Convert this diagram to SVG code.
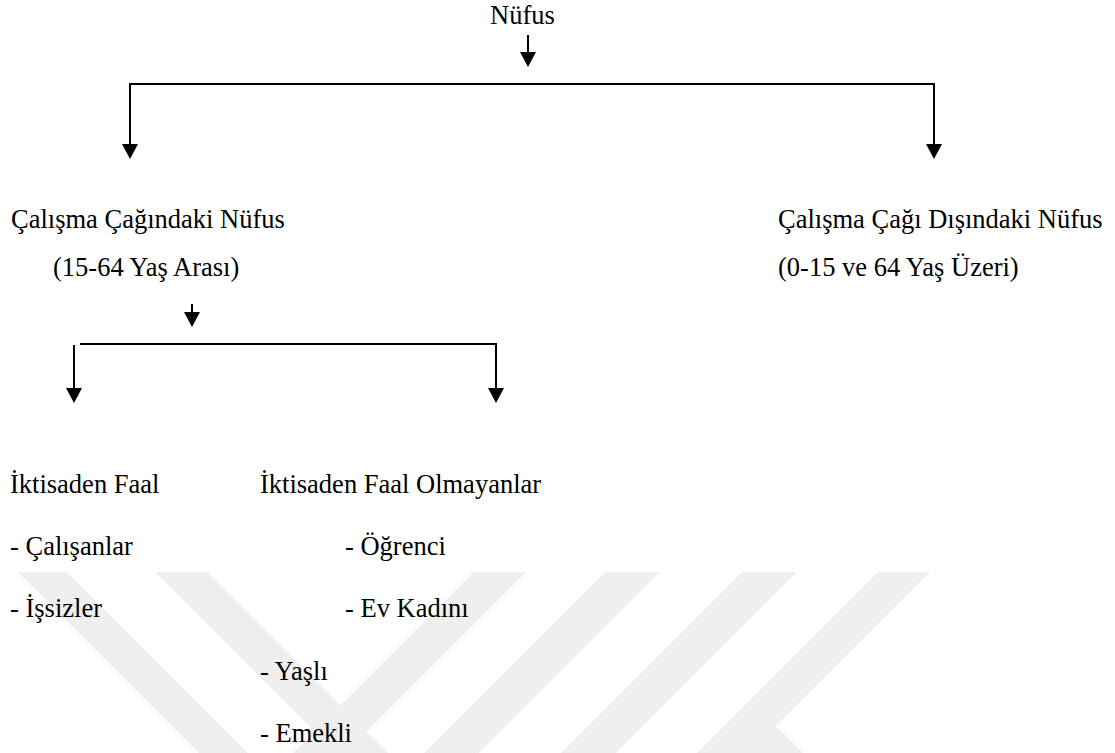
<svg xmlns="http://www.w3.org/2000/svg" width="1115" height="753" viewBox="0 0 1115 753">
  <style>
    .t { font-family: 'Liberation Serif', 'Times New Roman', serif; font-size: 26.5px; fill: #000; }
    .c { stroke: #000; stroke-width: 2; fill: none; }
    .wm { fill: #efefef; stroke: none; }
  </style>
  <defs>
    <marker id="ah" viewBox="0 0 15 16" refX="0" refY="8" markerWidth="15" markerHeight="16" markerUnits="userSpaceOnUse" orient="auto">
      <path d="M0,0 L15,8 L0,16 z" fill="#000"/>
    </marker>
  </defs>
  <rect width="1115" height="753" fill="#fff"/>
  <g id="watermark">
    <polygon class="wm" points="18,572 67,572 248,753 199,753"/>
    <polygon class="wm" points="155,572 207,572 388,753 336,753"/>
    <polygon class="wm" points="474,572 526,572 345,753 293,753"/>
    <polygon class="wm" points="605,572 660,572 479,753 424,753"/>
    <polygon class="wm" points="742,572 797,572 616,753 561,753"/>
    <polygon class="wm" points="878,572 930,572 749,753 697,753"/>
    <polygon class="wm" points="773,723 803,753 749,753"/>
  </g>
  <g id="connectors">
    <line class="c" x1="528" y1="35" x2="528" y2="52" marker-end="url(#ah)"/>
    <polyline class="c" points="130,144 130,84 934,84 934,144" marker-end="url(#ah)"/>
    <line class="c" x1="130" y1="84" x2="130" y2="144" marker-end="url(#ah)"/>
    <line class="c" x1="192" y1="304" x2="192" y2="312" marker-end="url(#ah)"/>
    <line class="c" x1="80" y1="344" x2="497" y2="344"/>
    <line class="c" x1="74" y1="345" x2="74" y2="388" marker-end="url(#ah)"/>
    <line class="c" x1="496" y1="344" x2="496" y2="388" marker-end="url(#ah)"/>
  </g>
  <g id="n-nufus">
    <text class="t" x="490" y="24">Nüfus</text>
  </g>
  <g id="n-calisma-cagi">
    <text class="t" x="11" y="228">Çalışma Çağındaki Nüfus</text>
    <text class="t" x="53" y="276">(15-64 Yaş Arası)</text>
  </g>
  <g id="n-calisma-disi">
    <text class="t" x="778" y="228">Çalışma Çağı Dışındaki Nüfus</text>
    <text class="t" x="778" y="276">(0-15 ve 64 Yaş Üzeri)</text>
  </g>
  <g id="n-faal">
    <text class="t" x="10" y="493">İktisaden Faal</text>
    <text class="t" x="10" y="555">- Çalışanlar</text>
    <text class="t" x="10" y="617">- İşsizler</text>
  </g>
  <g id="n-faal-olmayan">
    <text class="t" x="260" y="493">İktisaden Faal Olmayanlar</text>
    <text class="t" x="345" y="555">- Öğrenci</text>
    <text class="t" x="345" y="617">- Ev Kadını</text>
    <text class="t" x="260" y="680">- Yaşlı</text>
    <text class="t" x="260" y="742">- Emekli</text>
  </g>
</svg>
